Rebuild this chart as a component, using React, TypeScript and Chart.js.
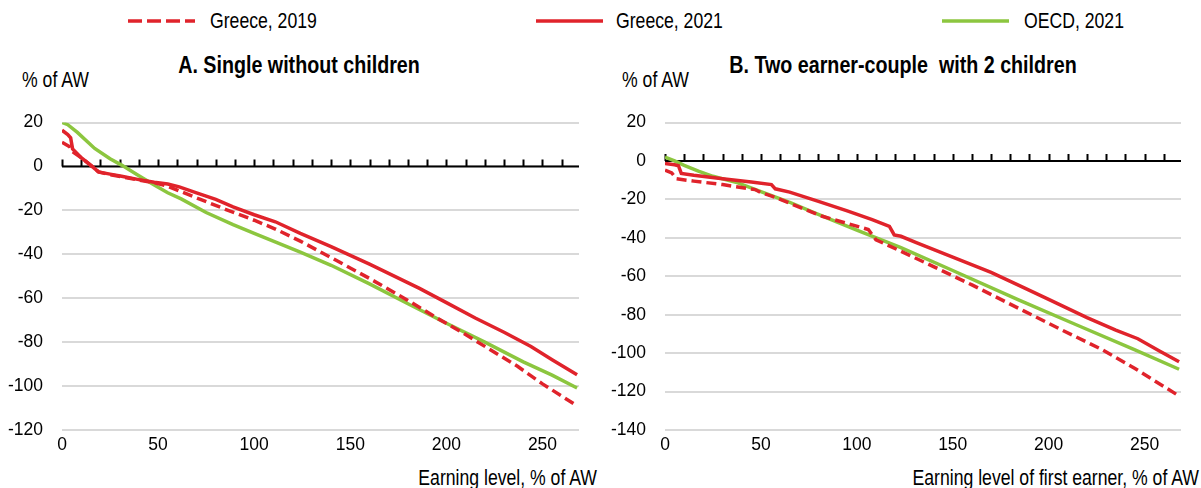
import React, { useEffect, useRef } from "react";
import { Chart, registerables } from "chart.js";

Chart.register(...registerables);

const FONT = "'Liberation Sans', Arial, sans-serif";
const RED = "#e0232b";
const GREEN = "#8cc63f";
const GRID = "#d9d9d9";

// Legend entries
const seriesLabels = ["Greece, 2019", "Greece, 2021", "OECD, 2021"];

// Panel A – single without children (earnings in % of AW, value in % of AW)
const singleX2019 = [0, 2, 4, 5, 10, 15, 19, 25, 31, 40, 48, 55, 62, 72, 85, 100, 111, 124, 140, 160, 180, 195, 209, 222, 237, 250, 268];
const singleGreece2019 = [11, 10, 9, 7, 4, 0.5, -2.5, -3.8, -4.7, -6.2, -7.4, -9, -11.5, -15, -19.5, -24.5, -28.5, -34, -41.5, -51, -61, -69, -76, -83, -91, -99, -109];
const singleX2021 = [0, 3, 4.5, 5.5, 10, 15, 19, 25, 31, 40, 48, 55, 61, 70, 80, 89, 100, 111, 124, 140, 160, 186, 200, 215, 230, 244, 255, 268];
const singleGreece2021 = [16.5, 14.5, 13, 8, 4, 0.5, -2.5, -3.5, -4.5, -6, -7.2, -8, -9.3, -12, -15, -18.4, -22, -25.2, -30.5, -36.5, -44.5, -55.5, -62, -69, -75.5, -82, -88, -94.9];
const singleXOecd = [0, 3, 8, 17, 25, 31, 40, 48, 55, 62, 75, 89, 100, 124, 140, 160, 180, 200, 220, 240, 255, 268];
const singleOecd2021 = [20, 19, 15.5, 8.2, 3.5, 0.6, -4.2, -8.5, -12, -14.8, -21, -26.5, -30.5, -39, -45, -53.5, -62.5, -71.4, -80, -89, -95, -100.9];

// Panel B – two-earner couple with 2 children
const coupleX2019 = [0, 3.5, 6, 15, 30, 47, 50, 56, 70, 82, 95, 106, 110, 123, 140, 160, 187, 207, 227.5, 245, 268];
const coupleGreece2019 = [-4.8, -6.2, -9.3, -10.5, -12.3, -14.9, -16.5, -18.4, -24, -28.8, -32.5, -35.7, -41, -47, -55, -64.5, -78, -88, -98, -108, -122.3];
const coupleX2021 = [0, 5, 7, 8.5, 15, 30, 45, 55.5, 57.5, 65, 80, 95, 108, 117, 119.5, 123, 131, 150, 170, 187, 200, 220, 235, 246.5, 258, 268];
const coupleGreece2021 = [-1.3, -2, -2.5, -6.5, -7.5, -9.3, -11, -12.3, -14.5, -16.2, -21, -26, -30.5, -34, -38.5, -39.2, -42.5, -50, -58, -65.9, -72, -81.5, -88, -92.5, -99, -104.5];
const coupleXOecd = [0, 5, 10, 17.4, 25, 38, 50, 65, 78, 100, 123, 150, 184, 215, 245, 268];
const coupleOecd2021 = [2, 0, -2.3, -5.3, -8, -11.4, -16, -21.5, -27, -36, -45.1, -57, -72.2, -85.5, -98.3, -108.4];

// Axis settings
const xMax = 269;
const xLabelStep = 50;
const zeroTickStep = 10;
const zeroTickLast = 260;
const singleYRange = [-120, 20];
const coupleYRange = [-140, 20];

const CANVAS_TOP = 93;
const CANVAS_HEIGHT = 367;

const toPoints = (xs: number[], ys: number[]) => xs.map((x, i) => ({ x, y: ys[i] }));

// Black zero line with small upward tick marks every 10 % of AW
const zeroAxisPlugin = {
  id: "zeroAxis",
  beforeDatasetsDraw(chart: any) {
    const { ctx, chartArea, scales } = chart;
    const y0 = scales.y.getPixelForValue(0);
    ctx.save();
    ctx.strokeStyle = "#000";
    ctx.lineWidth = 2;
    ctx.beginPath();
    ctx.moveTo(chartArea.left, y0);
    ctx.lineTo(chartArea.right, y0);
    for (let t = 0; t <= zeroTickLast; t += zeroTickStep) {
      const px = Math.round(scales.x.getPixelForValue(t)) + 0.5;
      ctx.moveTo(px, y0);
      ctx.lineTo(px, y0 - 7);
    }
    ctx.stroke();
    ctx.restore();
  },
};

type PanelProps = {
  left: number;
  width: number;
  axisWidth: number;
  padRight: number;
  yRange: number[];
  x2019: number[];
  y2019: number[];
  x2021: number[];
  y2021: number[];
  xOecd: number[];
  yOecd: number[];
};

function Panel(p: PanelProps) {
  const ref = useRef<HTMLCanvasElement>(null);
  useEffect(() => {
    if (!ref.current) return;
    const line = (label: string, data: { x: number; y: number }[], color: string, dash: number[]) => ({
      label,
      data,
      borderColor: color,
      borderWidth: 3.5,
      borderDash: dash,
      borderCapStyle: "butt" as const,
      pointRadius: 0,
      tension: 0,
    });
    const chart = new Chart(ref.current, {
      type: "line",
      data: {
        datasets: [
          line(seriesLabels[0], toPoints(p.x2019, p.y2019), RED, [10, 5]),
          line(seriesLabels[1], toPoints(p.x2021, p.y2021), RED, []),
          line(seriesLabels[2], toPoints(p.xOecd, p.yOecd), GREEN, []),
        ],
      },
      options: {
        responsive: false,
        animation: false,
        devicePixelRatio: 1,
        layout: { padding: { top: 22.7, right: p.padRight, left: 0, bottom: 0 } },
        plugins: { legend: { display: false }, tooltip: { enabled: false }, title: { display: false } },
        scales: {
          x: {
            type: "linear",
            min: 0,
            max: xMax,
            border: { display: false },
            grid: { display: false, drawTicks: false },
            ticks: {
              stepSize: xLabelStep,
              includeBounds: false,
              maxRotation: 0,
              autoSkip: false,
              padding: 5,
              color: "#000",
              font: { family: FONT, size: 17.5 },
            },
            afterFit(scale: any) {
              scale.height = 30;
            },
          },
          y: {
            min: p.yRange[0],
            max: p.yRange[1],
            border: { display: false },
            grid: { color: GRID, lineWidth: 2, drawTicks: false },
            ticks: {
              stepSize: 20,
              padding: 19,
              color: "#000",
              font: { family: FONT, size: 17.5 },
            },
            afterFit(scale: any) {
              scale.width = p.axisWidth;
            },
          },
        },
      },
      plugins: [zeroAxisPlugin],
    });
    return () => chart.destroy();
  }, []);
  return (
    <canvas
      ref={ref}
      width={p.width}
      height={CANVAS_HEIGHT}
      style={{ position: "absolute", left: p.left, top: CANVAS_TOP, width: p.width, height: CANVAS_HEIGHT }}
    />
  );
}

// Condensed-looking text, as in the original typesetting
const text = (extra: React.CSSProperties, origin = "left center"): React.CSSProperties => ({
  position: "absolute",
  fontFamily: FONT,
  fontSize: 21.5,
  lineHeight: "24px",
  color: "#000",
  whiteSpace: "nowrap",
  transform: "scaleX(0.82)",
  transformOrigin: origin,
  ...extra,
});

function LegendLine({ left, dashed, color }: { left: number; dashed?: boolean; color: string }) {
  return (
    <svg style={{ position: "absolute", left, top: 17 }} width={67} height={8}>
      <line x1={0} y1={4} x2={67} y2={4} stroke={color} strokeWidth={3.5} strokeDasharray={dashed ? "14 5" : undefined} />
    </svg>
  );
}

export default function App() {
  return (
    <div style={{ position: "fixed", left: 0, top: 0, width: 1201, height: 488, overflow: "hidden", background: "#fff" }}>
      <LegendLine left={128} dashed color={RED} />
      <div style={text({ left: 210, top: 9 })}>{seriesLabels[0]}</div>
      <LegendLine left={536} color={RED} />
      <div style={text({ left: 616, top: 9 })}>{seriesLabels[1]}</div>
      <LegendLine left={942} color={GREEN} />
      <div style={text({ left: 1024, top: 9 })}>{seriesLabels[2]}</div>

      <div style={text({ left: 0, width: 598, top: 51, textAlign: "center", fontWeight: "bold", fontSize: 24, lineHeight: "28px" }, "299px 14px")}>
        A. Single without children
      </div>
      <div style={text({ left: 604, width: 598, top: 51, textAlign: "center", fontWeight: "bold", fontSize: 24, lineHeight: "28px" }, "299px 14px")}>
        B. Two earner-couple&nbsp; with 2 children
      </div>
      <div style={text({ left: 22, top: 68 })}>% of AW</div>
      <div style={text({ left: 622, top: 68 })}>% of AW</div>

      <Panel
        left={0}
        width={600}
        axisWidth={62}
        padRight={21}
        yRange={singleYRange}
        x2019={singleX2019}
        y2019={singleGreece2019}
        x2021={singleX2021}
        y2021={singleGreece2021}
        xOecd={singleXOecd}
        yOecd={singleOecd2021}
      />
      <Panel
        left={600}
        width={601}
        axisWidth={65}
        padRight={20}
        yRange={coupleYRange}
        x2019={coupleX2019}
        y2019={coupleGreece2019}
        x2021={coupleX2021}
        y2021={coupleGreece2021}
        xOecd={coupleXOecd}
        yOecd={coupleOecd2021}
      />

      <div style={text({ left: 197, width: 400, top: 466, textAlign: "right" }, "400px 12px")}>Earning level, % of AW</div>
      <div style={text({ left: 799, width: 400, top: 466, textAlign: "right" }, "400px 12px")}>Earning level of first earner, % of AW</div>
    </div>
  );
}
